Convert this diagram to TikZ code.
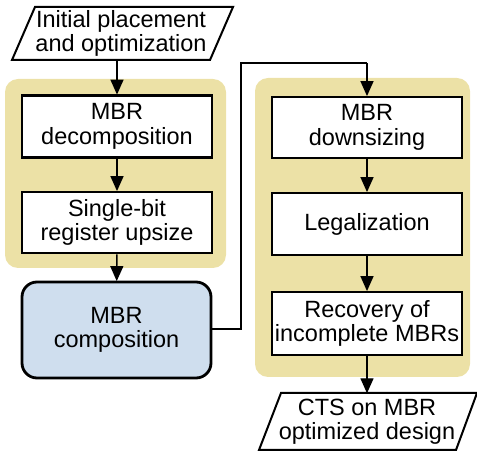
\documentclass[tikz,border=0pt]{standalone}
\usepackage{fontspec}
\setmainfont{Liberation Sans}
\usetikzlibrary{arrows.meta}
\definecolor{panelyellow}{RGB}{236,225,166}
\definecolor{compblue}{RGB}{207,222,238}
\begin{document}
\begin{tikzpicture}[x=1pt,y=-1pt,
  txt/.style={font=\fontsize{23.5}{24.5}\selectfont, align=center, inner sep=0pt},
  stepbox/.style={txt, draw=black, line width=2.8pt, fill=white, minimum width=190pt},
  panel/.style={fill=panelyellow, rounded corners=13pt},
  para/.style={draw=black, line width=2pt, fill=white},
  arr/.style={-{Triangle[length=15pt,width=13pt]}, line width=1.4pt, shorten >=-0.5pt},
  link/.style={line width=1.2pt}]
\useasboundingbox (0,0) rectangle (477,454);
% panels
\fill[panel] (5,79) rectangle (226,268);
\fill[panel] (255,78) rectangle (470,377);
% top parallelogram
\draw[para] (35,7) -- (233,7) -- (210,60) -- (12,60) -- cycle;
\node[txt, minimum width=190pt, minimum height=53pt] (init) at (121,33.5) {Initial placement\\and optimization};
% left column
\node[stepbox, minimum height=62pt] (dec) at (117,126.5) {MBR\\decomposition};
\node[stepbox, minimum height=61pt] (sbr) at (117,222.5) {Single-bit\\register upsize};
\node[txt, draw=black, line width=2.8pt, fill=compblue, rounded corners=15pt, minimum width=189pt, minimum height=96pt] (comp) at (116.5,330) {MBR\\composition};
% right column
\node[stepbox, minimum height=61pt] (down) at (367,127.5) {MBR\\downsizing};
\node[stepbox, minimum height=62pt] (leg) at (367,224) {Legalization};
\node[stepbox, minimum height=63pt] (rec) at (367,323.5) {Recovery of\\incomplete MBRs};
% bottom parallelogram
\draw[para] (281,393) -- (477,393) -- (456,450) -- (259,450) -- cycle;
\node[txt, minimum width=190pt, minimum height=57pt] (cts) at (367,421.5) {CTS on MBR\\optimized design};
% connectors
\draw[arr] (init.south -| dec.north) -- (dec.north);
\draw[arr] (dec) -- (sbr);
\draw[arr] (sbr) -- (comp);
\coordinate (c1) at (241,329);
\coordinate (c2) at (241,63);
\coordinate (c3) at (367,63);
\draw[link] (comp.east |- c1) -- (c1) -- (c2) -- (c3);
\draw[arr] (c3) -- (down.north);
\draw[arr] (down) -- (leg);
\draw[arr] (leg) -- (rec);
\draw[arr] (rec) -- (cts.north);
\end{tikzpicture}
\end{document}
